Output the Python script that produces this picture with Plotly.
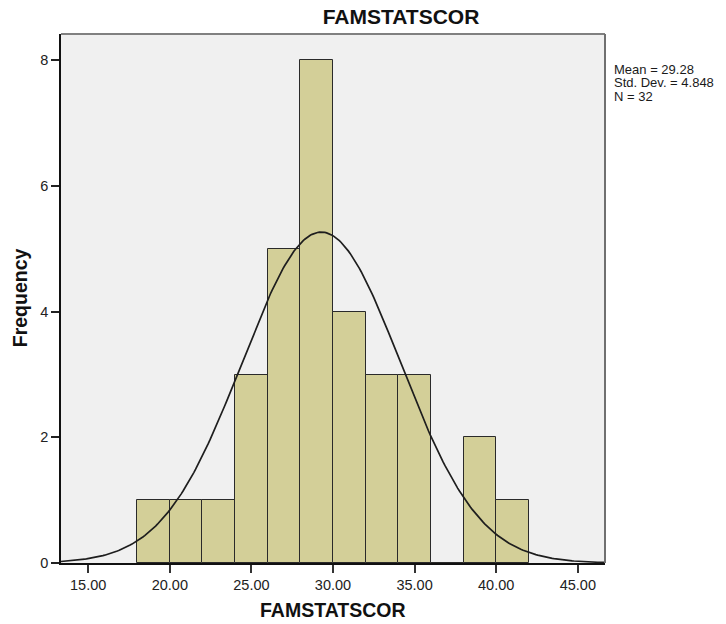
import numpy as np
import plotly.graph_objects as go

# Histogram data (bins of width 2)
bin_starts = [18, 20, 22, 24, 26, 28, 30, 32, 34, 36, 38, 40]
counts = [1, 1, 1, 3, 5, 8, 4, 3, 3, 0, 2, 1]
bin_width = 2

# Summary statistics
mean_val = 29.28
sd_val = 4.848
n_val = 32

x_tick_vals = [15, 20, 25, 30, 35, 40, 45]
x_tick_text = ["15.00", "20.00", "25.00", "30.00", "35.00", "40.00", "45.00"]
y_tick_vals = [0, 2, 4, 6, 8]
stats_lines = ["Mean = 29.28", "Std. Dev. = 4.848", "N = 32"]

x_range = [13.333, 46.667]
y_range = [0, 8.42]

centers = [s + bin_width / 2 for s in bin_starts]

# Fitted normal curve from the reported mean / sd
xc = np.linspace(x_range[0], x_range[1], 300)
yc = n_val * bin_width * np.exp(-0.5 * ((xc - mean_val) / sd_val) ** 2) / (sd_val * np.sqrt(2 * np.pi))

FONT = "Liberation Sans, Arial, sans-serif"

fig = go.Figure()
fig.add_trace(go.Bar(
    x=centers, y=counts, width=[bin_width] * len(centers),
    marker=dict(color="#D3CF98", line=dict(color="#2a2a2a", width=1)),
    showlegend=False, hoverinfo="x+y"))
fig.add_trace(go.Scatter(
    x=xc, y=yc, mode="lines",
    line=dict(color="#1e1e1e", width=1.7),
    showlegend=False, hoverinfo="skip"))

L, T, R, B = 61, 33.5, 605, 563
W, H = R - L, B - T

fig.update_layout(
    width=726, height=624,
    margin=dict(l=L, r=726 - R, t=T, b=624 - B, pad=0),
    paper_bgcolor="white", plot_bgcolor="#F0F0F0",
    font=dict(family=FONT, size=14, color="#1a1a1a"),
    title=dict(text="<b>FAMSTATSCOR</b>", x=401 / 726, xanchor="center",
               y=1 - 16.5 / 624, yanchor="middle", yref="container",
               font=dict(size=21, color="#111111", family=FONT)),
    bargap=0,
    xaxis=dict(range=x_range, tickvals=x_tick_vals, ticktext=x_tick_text,
               showgrid=False, zeroline=False, showline=True, linecolor="#111111",
               linewidth=1.5, ticks="outside", ticklen=8, tickcolor="#333333",
               tickwidth=1.5, tickfont=dict(size=14.5, color="#222222")),
    yaxis=dict(range=y_range, tickvals=y_tick_vals, showgrid=False, zeroline=False,
               showline=True, linecolor="#111111", linewidth=1.5, ticks="outside",
               ticklen=8, tickcolor="#222222", tickwidth=1.5,
               tickfont=dict(size=14.5, color="#222222")),
    shapes=[
        dict(type="line", xref="paper", yref="paper", x0=0, x1=1, y0=1, y1=1,
             line=dict(color="#808080", width=2)),
        dict(type="line", xref="paper", yref="paper", x0=1, x1=1, y0=0, y1=1,
             line=dict(color="#707070", width=2)),
    ],
)

annotations = [
    dict(text="<b>FAMSTATSCOR</b>", xref="paper", yref="paper",
         x=0.5, y=(B - 610) / H, xanchor="center", yanchor="middle",
         showarrow=False, font=dict(size=19.5, color="#111111")),
    dict(text="<b>Frequency</b>", xref="paper", yref="paper",
         x=(20 - L) / W, y=(B - 298) / H, xanchor="center", yanchor="middle",
         textangle=-90, showarrow=False, font=dict(size=19.5, color="#111111")),
]
for i, line in enumerate(stats_lines):
    py = 69 + 13.4 * i
    annotations.append(dict(text=line, xref="paper", yref="paper",
                            x=(612 - L) / W, y=(B - py) / H,
                            xanchor="left", yanchor="middle", showarrow=False,
                            font=dict(size=13, color="#1a1a1a")))
fig.update_layout(annotations=annotations)

fig.write_html("out.html",
               config={"displayModeBar": False},
               post_script="document.body.style.margin='0';document.body.style.padding='0';")
